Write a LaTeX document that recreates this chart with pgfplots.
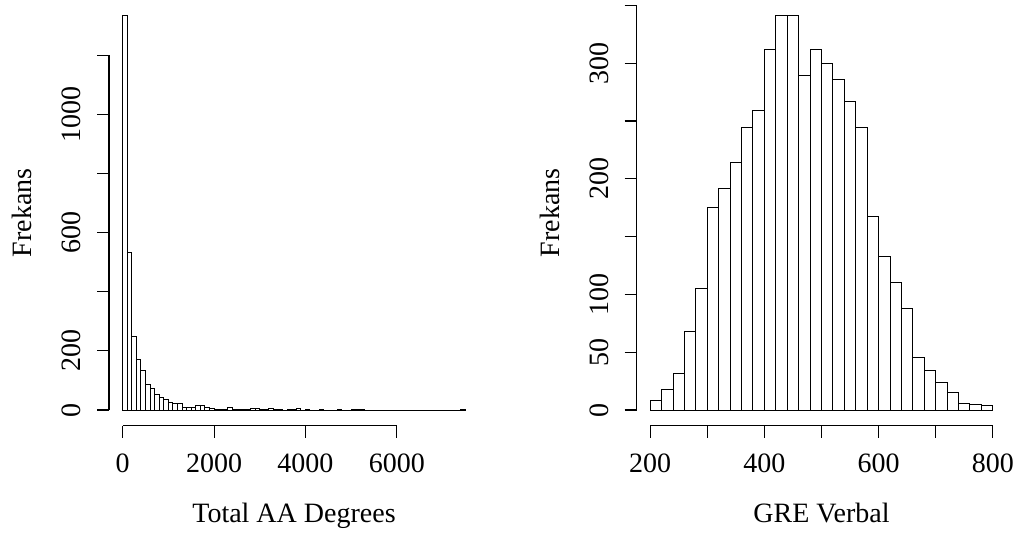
\documentclass[border=0pt]{standalone}
\usepackage{fontspec}
\setmainfont{Liberation Serif}
\usepackage{pgfplots}
\usepackage{pgfplotstable}
\pgfplotsset{compat=1.18}

% Total AA Degrees, bins of 100 (last row closes the interval)
\pgfplotstableread{
x y
0 1333
100 533
200 250
300 171
400 135
500 85
600 73
700 53
800 43
900 34
1000 27
1100 22
1200 22
1300 10
1400 10
1500 10
1600 15
1700 15
1800 10
1900 4
2000 3
2100 3
2200 3
2300 8
2400 3
2500 3
2600 3
2700 2
2800 4
2900 4
3000 1
3100 1
3200 4
3300 1
3400 1
3500 0
3600 1
3700 1
3800 4
3900 0
4000 1
4100 0
4200 0
4300 1
4400 0
4500 0
4600 0
4700 1
4800 0
4900 0
5000 3
5100 3
5200 3
5300 0
5400 0
5500 0
5600 0
5700 0
5800 0
5900 0
6000 0
6100 0
6200 0
6300 0
6400 0
6500 0
6600 0
6700 0
6800 0
6900 0
7000 0
7100 0
7200 0
7300 0
7400 3
7500 0
}\aadeg

% GRE Verbal, bins of 20
\pgfplotstableread{
x y
200 8
220 18
240 32
260 68
280 105
300 175
320 192
340 214
360 244
380 259
400 312
420 341
440 341
460 289
480 312
500 300
520 286
540 267
560 244
580 167
600 133
620 110
640 88
660 45
680 34
700 24
720 15
740 6
760 5
780 4
800 0
}\greverbal

\pgfplotsset{
  rhist/.style={
    scale only axis, width=370pt, height=425.8pt,
    anchor=south west, clip=false,
    axis x line*=bottom, axis y line*=left,
    axis line style={draw=none},
    tick align=outside, major tick length=12pt,
    tick style={black, line width=1.1pt},
    minor tick num=0,
    tick label style={font=\fontsize{28}{33}\selectfont},
    label style={font=\fontsize{28}{33}\selectfont},
    xticklabel style={anchor=base},
    xticklabel shift=35pt,
    yticklabel style={rotate=90, anchor=base},
    yticklabel shift=16pt,
    xlabel style={at={([yshift=-97pt]axis description cs:0.5,0)}, anchor=base},
    ylabel style={at={([xshift=-77pt]axis description cs:0,0.5)}, anchor=base, rotate=0},
  },
  histbar/.style={ybar interval, fill=white, draw=black, line width=1pt},
}

\begin{document}
\begin{tikzpicture}[font=\fontsize{28}{33}\selectfont]
\useasboundingbox (0,0) rectangle (1018pt,534pt);

\begin{axis}[rhist, at={(109pt,108.2pt)},
  xmin=-300, xmax=7800, ymin=-53.32, ymax=1386.32,
  xtick={0,2000,4000,6000}, xticklabels={0,2000,4000,6000},
  ytick={0,200,...,1200}, yticklabels={0,200,,600,,1000,},
  xlabel={Total AA Degrees}, ylabel={Frekans}]
  \addplot[histbar] table[x=x,y=y]{\aadeg};
  \draw[line width=1.1pt] (axis cs:0,-53.32) -- (axis cs:6000,-53.32);
  \draw[line width=1.1pt] (axis cs:-300,0) -- (axis cs:-300,1200);
\end{axis}

\begin{axis}[rhist, at={(636.5pt,108.2pt)},
  xmin=176, xmax=824, ymin=-13.64, ymax=354.64,
  xtick={200,300,...,800}, xticklabels={200,,400,,600,,800},
  ytick={0,50,...,350}, yticklabels={0,50,100,,200,,300,},
  xlabel={GRE Verbal}, ylabel={Frekans}]
  \addplot[histbar] table[x=x,y=y]{\greverbal};
  \draw[line width=1.1pt] (axis cs:200,-13.64) -- (axis cs:800,-13.64);
  \draw[line width=1.1pt] (axis cs:176,0) -- (axis cs:176,350);
\end{axis}
\end{tikzpicture}
\end{document}
